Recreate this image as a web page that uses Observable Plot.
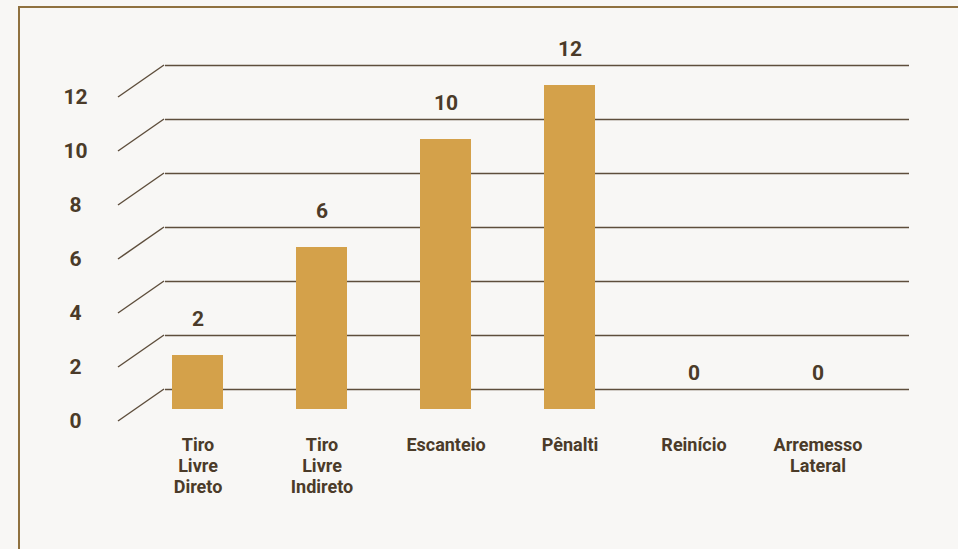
<!DOCTYPE html>
<html>
<head>
<meta charset="utf-8">
<script src="https://cdn.jsdelivr.net/npm/d3@7"></script>
<script src="https://cdn.jsdelivr.net/npm/@observablehq/plot@0.6"></script>
<style>
  html, body { margin: 0; padding: 0; background: #f8f7f5; overflow: hidden; }
  #wrap { position: relative; width: 958px; height: 549px; }
  #border { position: absolute; left: 18px; top: 6px; width: 960px; height: 560px;
            border-top: 2px solid #8f7140; border-left: 2px solid #8f7140; box-sizing: border-box; pointer-events: none; }
  svg { position: absolute; left: 0; top: 0; background: transparent; }
</style>
</head>
<body>
<div id="wrap"><div id="border"></div></div>
<script>
const categories = ["Tiro\nLivre\nDireto", "Tiro\nLivre\nIndireto", "Escanteio", "Pênalti", "Reinício", "Arremesso\nLateral"];
const values = [2, 6, 10, 12, 0, 0];
const yTicks = [0, 2, 4, 6, 8, 10, 12];
const tickLabels = ["0", "2", "4", "6", "8", "10", "12"];

const data = categories.map((c, i) => ({category: c, value: values[i]}));
const ticks = yTicks.map((t, i) => ({t, label: tickLabels[i]}));

const ink = "#4b3b29";
const grid = "#5e4e3c";
const font = "Roboto, sans-serif";

const diagonals = (index, scales, values, dimensions) => {
  const g = d3.create("svg:g");
  for (const d of ticks) {
    const yy = scales.y(d.t);
    g.append("line")
      .attr("x1", dimensions.marginLeft - 17).attr("y1", yy + 12)
      .attr("x2", dimensions.marginLeft + 29).attr("y2", yy - 20)
      .attr("stroke", grid).attr("stroke-width", 1.5);
  }
  return g.node();
};

const chart = Plot.plot({
  width: 958,
  height: 549,
  marginLeft: 135,
  marginRight: 79,
  marginTop: 85,
  marginBottom: 140,
  style: {fontFamily: font, background: "transparent", overflow: "visible"},
  x: {domain: categories, paddingInner: 0.59, paddingOuter: 0.28, axis: null},
  y: {domain: [0, 12], axis: null},
  marks: [
    Plot.ruleY(ticks, {y: "t", dx: 30, dy: -20, stroke: grid, strokeWidth: 1.5}),
    diagonals,
    Plot.barY(data, {x: "category", y: "value", fill: "#d4a14a"}),
    Plot.text(data, {x: "category", y: "value", text: d => String(d.value), dy: -36,
      fill: ink, fontSize: 21, fontWeight: 700}),
    Plot.text(data, {x: "category", text: "category", frameAnchor: "bottom", lineAnchor: "top",
      dy: 26, lineHeight: 1.18, fill: ink, fontSize: 18, fontWeight: 700}),
    Plot.text(ticks, {y: "t", text: "label", frameAnchor: "left", dx: -60, dy: 12,
      textAnchor: "middle", fill: ink, fontSize: 21, fontWeight: 700})
  ]
});
document.getElementById("wrap").prepend(chart);
</script>
</body>
</html>
